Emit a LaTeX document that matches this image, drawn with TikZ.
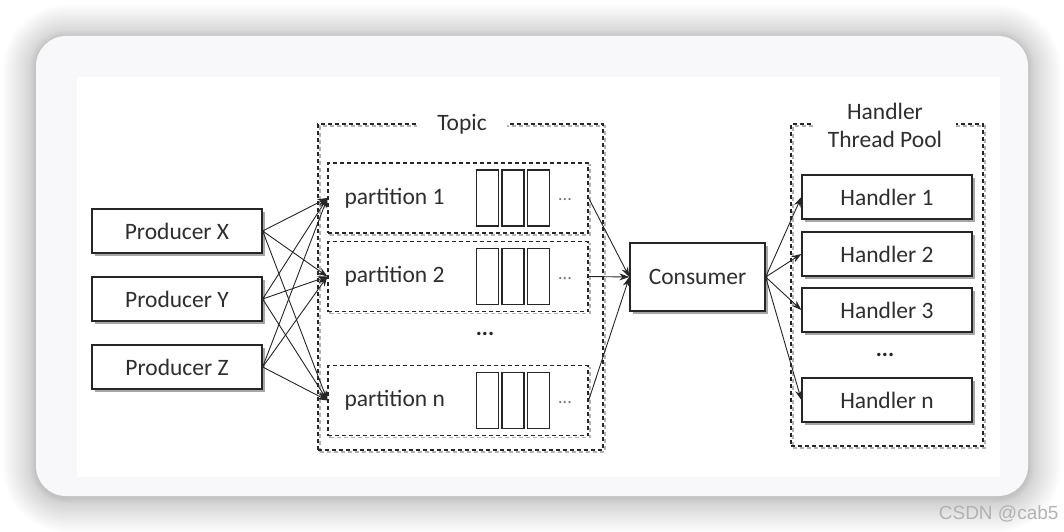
\documentclass[tikz,border=0pt]{standalone}
\usepackage{fontspec}
\setmainfont{Carlito}
\newfontfamily\wmfont{Liberation Sans}
\usetikzlibrary{arrows.meta,shadows}
\definecolor{cardbg}{HTML}{F8F8FA}
\definecolor{txt}{HTML}{2E2E2E}
\begin{document}
\begin{tikzpicture}[x=1pt,y=-1pt,
  lbl/.style={font=\fontsize{23.5}{27}\selectfont, text=txt},
  solidbox/.style={draw=black!85, line width=1.3pt, fill=white, inner sep=0pt, lbl,
     drop shadow={shadow xshift=2.5pt, shadow yshift=-2.5pt, fill=black, opacity=0.35}},
  dashbox/.style={draw=black!85, line width=1.2pt, dash pattern=on 4pt off 3pt, inner sep=0pt,
     preaction={draw=black!30, line width=1.5pt, dash pattern=on 4pt off 3pt, transform canvas={xshift=2pt,yshift=-2pt}}},
  cell/.style={draw=black!85, line width=1.2pt, fill=white, minimum width=22pt, minimum height=56pt, inner sep=0pt},
  conn/.style={draw=black!85, line width=0.9pt, -{Stealth[length=10pt,width=7pt]}},
  bigdots/.style={font=\fontsize{23}{27}\selectfont\bfseries, text=black!85}
]
\useasboundingbox (0,0) rectangle (1064,532);
% background shadow of card
\foreach \i in {1,...,24} {
  \fill[black, opacity=0.006, rounded corners={30pt+\i*1.5pt}]
    (36-\i*1.4, 38-\i*1.4) rectangle (1028+\i*1.4, 499+\i*1.4);
}
\foreach \i in {1,...,6} {
  \fill[black, opacity=0.012, rounded corners={30pt+\i*1pt}]
    (36-\i*1, 37-\i*1) rectangle (1028+\i*1, 497+\i*1);
}
\fill[cardbg, rounded corners=30pt] (36,36) rectangle (1028,496);
\fill[white] (77,77) rectangle (1000,477);

% containers
\node[dashbox, minimum width=285pt, minimum height=326pt] (topic) at (460.5,287) {};
\node[dashbox, minimum width=192pt, minimum height=322pt] (pool) at (887,285) {};
\node[lbl, fill=white, inner xsep=20pt, inner ysep=2pt] (topiclbl) at (462,124) {Topic};
\node[lbl, fill=white, align=center, inner xsep=14pt, inner ysep=0pt, font=\fontsize{23.5}{28}\selectfont] (poollbl) at (885,125) {Handler\\Thread Pool};

% producers
\node[solidbox, minimum width=170pt, minimum height=44pt] (px) at (177,231) {Producer X};
\node[solidbox, minimum width=170pt, minimum height=44pt] (py) at (177,299) {Producer Y};
\node[solidbox, minimum width=170pt, minimum height=44pt] (pz) at (177,367) {Producer Z};

% partitions
\foreach \n/\y/\t in {p1/198/partition 1, p2/276.5/partition 2, pn/400.5/partition n} {
  \node[dashbox, fill=white, minimum width=260pt, minimum height=70pt] (\n) at (458,\y) {};
  \node[lbl, anchor=west] (\n t) at (341,\y) {\t};
  \node[cell] (\n a) at (487.5,\y) {};
  \node[cell] (\n b) at (513,\y) {};
  \node[cell] (\n c) at (538.5,\y) {};
  \node[font=\fontsize{18}{18}\selectfont, text=black!55] (\n d) at (565,\y+2) {...};
}
\node[bigdots] (tdots) at (485,334) {...};

% consumer
\node[solidbox, minimum width=135pt, minimum height=68pt] (c) at (697.5,277) {Consumer};

% handlers
\node[solidbox, minimum width=170pt, minimum height=44pt] (h1) at (887,197) {Handler 1};
\node[solidbox, minimum width=170pt, minimum height=44pt] (h2) at (887,254) {Handler 2};
\node[solidbox, minimum width=170pt, minimum height=44pt] (h3) at (887,310) {Handler 3};
\node[solidbox, minimum width=170pt, minimum height=44pt] (hn) at (887,400) {Handler n};
\node[bigdots] (hdots) at (885,355) {...};

% producer -> partition
\foreach \s in {px,py,pz} {
  \foreach \d in {p1,p2,pn} {
    \draw[conn] (\s.east) -- (\d.west);
  }
}
% partition -> consumer
\foreach \d in {p1,p2,pn} {
  \draw[conn] (\d.east) -- (c.west);
}
% consumer -> handlers
\foreach \h in {h1,h2,h3,hn} {
  \draw[conn] (c.east) -- (\h.west);
}

% watermark
\node[font=\wmfont\fontsize{19}{19}\selectfont, text=black!30, anchor=east] (wm) at (1062,514) {CSDN @cab5};
\end{tikzpicture}
\end{document}
